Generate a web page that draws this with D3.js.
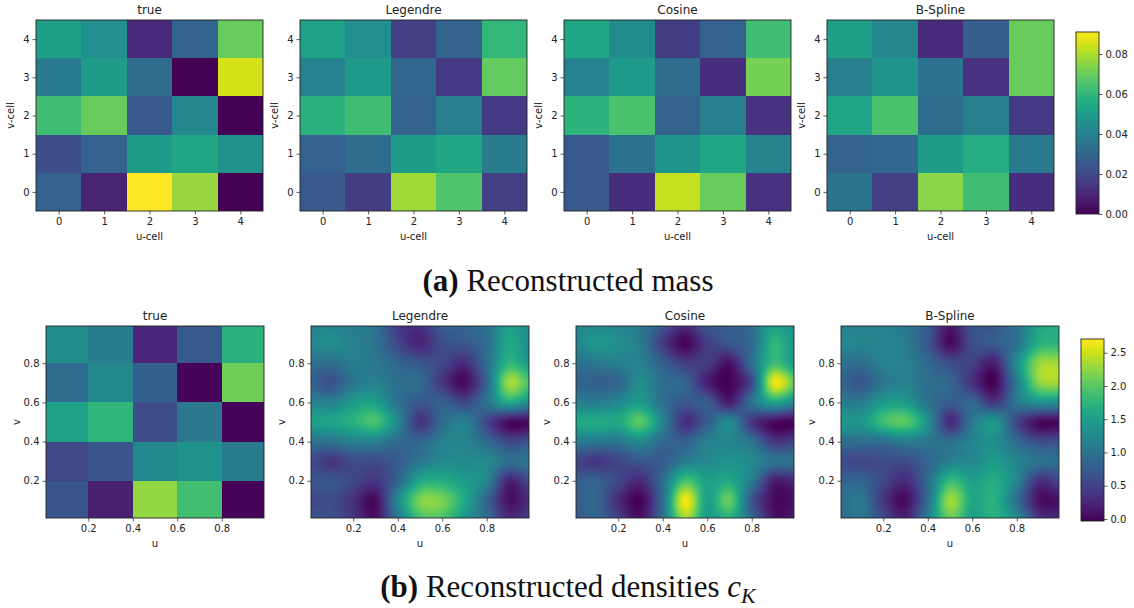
<!DOCTYPE html>
<html>
<head>
<meta charset="utf-8">
<script src="https://d3js.org/d3.v7.min.js"></script>
<style>
  html, body { margin: 0; background: #fff; }
  svg { display: block; }
  text { font-family: "DejaVu Sans", sans-serif; fill: #222; }
  .caption { font-family: "Liberation Serif", serif; font-size: 31px; fill: #111; }
</style>
</head>
<body>
<svg id="chart" width="1134" height="608"></svg>
<script>
const methods = ["true", "Legendre", "Cosine", "B-Spline"];
const cells = [0, 1, 2, 3, 4];

// mass per cell, rows listed from v-cell 4 down to v-cell 0
const massTrue = [
  [.051, .045, .010, .029, .070],
  [.037, .050, .032, .000, .085],
  [.063, .070, .025, .042, .000],
  [.022, .028, .050, .054, .046],
  [.028, .009, .091, .077, .000]
];
const massLegendre = [
  [.052, .045, .017, .029, .060],
  [.040, .049, .030, .015, .069],
  [.058, .063, .029, .039, .015],
  [.028, .032, .050, .054, .038],
  [.025, .016, .078, .066, .017]
];
const massCosine = [
  [.054, .044, .016, .028, .063],
  [.040, .049, .032, .012, .072],
  [.059, .065, .029, .039, .013],
  [.025, .034, .047, .054, .041],
  [.025, .012, .083, .070, .013]
];
const massBSpline = [
  [.051, .042, .011, .027, .070],
  [.039, .047, .034, .013, .070],
  [.053, .065, .032, .039, .015],
  [.029, .030, .050, .056, .037],
  [.035, .017, .075, .063, .012]
];

// true density per cell, same row order
const densityTrue = [
  [1.30, 1.10, .25, .72, 1.72],
  [.92, 1.25, .80, .00, 2.10],
  [1.52, 1.75, .62, 1.05, .00],
  [.55, .70, 1.25, 1.35, 1.10],
  [.70, .22, 2.25, 1.88, .00]
];
const densityEdges = [0, .2, .4, .6, .8, 1];

// densities read at u = 0, .1 ... 1, rows from v = 1 down to v = 0
const gridU = [0, .1, .2, .3, .4, .5, .6, .7, .8, .9, 1];
const gridLegendre = [
  [1.15, 1.2, 1.1, 1.0, .45, .35, .75, .85, 1.0, 1.5, 1.25],
  [1.2, 1.3, 1.15, 1.0, .55, .25, .6, .7, .95, 1.6, 1.25],
  [1.0, .95, 1.1, 1.05, .85, .7, .55, .3, .95, 1.75, 1.4],
  [.85, .65, 1.05, 1.15, .95, .9, .4, .05, .85, 2.3, 1.85],
  [1.2, 1.15, 1.45, 1.5, 1.0, .7, .8, .55, 1.0, 1.6, 1.25],
  [1.5, 1.55, 1.7, 1.9, 1.25, .4, .9, 1.15, .55, .05, .05],
  [1.0, 1.0, 1.15, 1.15, .9, .85, 1.15, 1.2, .9, .55, .65],
  [.6, .4, .6, .6, .75, 1.05, 1.25, 1.25, 1.25, .95, 1.05],
  [.7, .7, .55, .4, .85, 1.6, 1.65, 1.45, 1.2, .25, .6],
  [.55, .6, .35, .05, 1.25, 2.15, 2.15, 1.6, .85, .1, .35],
  [.7, .65, .4, .1, 1.0, 1.85, 1.9, 1.4, .95, .3, .5]
];
const gridCosine = [
  [1.2, 1.25, 1.2, 1.05, .7, .3, .7, .75, .95, 1.5, 1.3],
  [1.2, 1.4, 1.3, 1.1, .45, .0, .45, .7, .9, 1.75, 1.35],
  [1.0, 1.05, 1.15, 1.15, .8, .45, .45, .1, .95, 1.85, 1.4],
  [.85, .8, .85, 1.3, .95, .85, .2, .0, .6, 2.6, 2.0],
  [1.15, 1.1, 1.25, 1.45, .95, .7, .75, .2, 1.0, 1.55, 1.2],
  [1.6, 1.65, 1.6, 2.0, 1.2, .35, .75, 1.25, .4, .05, .0],
  [1.1, 1.05, 1.05, 1.25, .9, .8, 1.15, 1.2, 1.0, .4, .5],
  [.55, .4, .55, .7, .75, 1.1, 1.25, 1.35, 1.25, 1.0, 1.0],
  [.75, .8, .55, .3, .95, 1.9, 1.5, 1.6, 1.1, .2, .3],
  [.75, .85, .3, .0, .95, 2.65, 1.5, 2.05, .7, .05, .1],
  [.7, .85, .5, .1, 1.0, 2.3, 1.45, 1.65, .9, .1, .2]
];
const gridBSpline = [
  [1.2, 1.15, 1.15, 1.05, .75, .15, .65, .7, 1.0, 1.55, 1.65],
  [1.25, 1.2, 1.2, 1.1, .7, .05, .6, .75, 1.0, 1.7, 1.75],
  [1.0, .95, 1.15, 1.15, .9, .6, .5, .2, 1.3, 2.25, 2.3],
  [.9, .7, 1.05, 1.15, .95, .85, .35, .0, 1.1, 2.2, 2.3],
  [1.1, 1.1, 1.45, 1.45, 1.0, .75, .85, .4, 1.05, 1.35, 1.3],
  [1.45, 1.4, 1.85, 2.0, 1.35, .3, 1.05, 1.4, .55, .05, .05],
  [.95, .95, .95, 1.1, 1.05, .95, 1.2, 1.3, .9, .6, .65],
  [.6, .55, .6, .6, .85, 1.15, 1.25, 1.45, 1.2, 1.0, .95],
  [.8, .85, .55, .3, .9, 1.8, 1.5, 1.65, 1.2, .35, .55],
  [.9, 1.05, .4, .05, .95, 2.3, 1.6, 1.7, .95, .1, .1],
  [.85, 1.05, .6, .25, 1.15, 2.05, 1.5, 1.7, 1.3, .4, .3]
];

const massTicks = [0, .02, .04, .06, .08];
const densityTicks = [0, .5, 1, 1.5, 2, 2.5];
const uvTicks = [.2, .4, .6, .8];
const massDomain = [0, .091];
const densityDomain = [-.03, 2.706];
const uvDomain = [.01, .99];

const massColor = d3.scaleSequential(d3.interpolateViridis).domain(massDomain);
const densityColor = d3.scaleSequential(d3.interpolateViridis).domain(densityDomain).clamp(true);

const svg = d3.select("#chart");

function frame(g, x, y, w, h, title, xLabel, yLabel, xTicks, yTicks, fmt, yLabelX) {
  const outline = g.append("g");
  outline.append("g").attr("transform", `translate(0,${h})`)
    .call(d3.axisBottom(x).tickValues(xTicks).tickFormat(fmt).tickSize(3.5).tickPadding(3));
  outline.append("g")
    .call(d3.axisLeft(y).tickValues(yTicks).tickFormat(fmt).tickSize(3.5).tickPadding(3));
  outline.selectAll("text").style("font-size", "10px");
  outline.selectAll(".domain").remove();
  outline.selectAll("line").attr("stroke", "#333").attr("stroke-width", 0.8);
  g.append("rect").attr("width", w).attr("height", h)
    .attr("fill", "none").attr("stroke", "#222").attr("stroke-width", 0.9);

  g.append("text").attr("x", w / 2).attr("y", -6).attr("text-anchor", "middle")
    .style("font-size", "12px").text(title);
  g.append("text").attr("x", w / 2).attr("y", h + 29).attr("text-anchor", "middle")
    .style("font-size", "10px").text(xLabel);
  g.append("text").attr("transform", `translate(${yLabelX},${h / 2}) rotate(-90)`)
    .attr("text-anchor", "middle").style("font-size", "10px").text(yLabel);
}

// Mass row
const massPanels = [massTrue, massLegendre, massCosine, massBSpline];
const massLeft = [36, 300, 564, 827];
massPanels.forEach((rows, p) => {
  const w = 227, h = 191;
  const g = svg.append("g").attr("transform", `translate(${massLeft[p]},20)`);
  const x = d3.scaleLinear().domain([-.5, 4.5]).range([0, w]);
  const y = d3.scaleLinear().domain([-.5, 4.5]).range([h, 0]);
  rows.forEach((row, r) => {
    g.selectAll(null).data(row).join("rect")
      .attr("x", (d, i) => x(cells[i] - .5))
      .attr("y", y(cells[4 - r] + .5))
      .attr("width", (d, i) => x(cells[i] + .5) - x(cells[i] - .5))
      .attr("height", y(cells[4 - r] - .5) - y(cells[4 - r] + .5))
      .attr("shape-rendering", "crispEdges")
      .attr("fill", d => massColor(d));
  });
  frame(g, x, y, w, h, methods[p], "u-cell", "v-cell", cells, cells, d3.format("d"), -22);
});

// bicubic read of a grid, like imshow with interpolation
function catmull(a, b, c, d, t) {
  return b + .5 * t * (c - a + t * (2 * a - 5 * b + 4 * c - d + t * (3 * (b - c) + d - a)));
}
function sample(grid, u, v) {
  const n = gridU.length - 1;
  const fx = u * n, fy = (1 - v) * n;
  const ix = Math.min(n - 1, Math.floor(fx)), iy = Math.min(n - 1, Math.floor(fy));
  const at = (r, c) => grid[Math.max(0, Math.min(n, r))][Math.max(0, Math.min(n, c))];
  const col = [-1, 0, 1, 2].map(k =>
    catmull(at(iy + k, ix - 1), at(iy + k, ix), at(iy + k, ix + 1), at(iy + k, ix + 2), fx - ix));
  return catmull(col[0], col[1], col[2], col[3], fy - iy);
}
function fieldImage(grid, x, y, w, h) {
  const canvas = document.createElement("canvas");
  canvas.width = w;
  canvas.height = h;
  const ctx = canvas.getContext("2d");
  for (let py = 0; py < h; py++) {
    for (let px = 0; px < w; px++) {
      ctx.fillStyle = densityColor(sample(grid, x.invert(px + .5), y.invert(py + .5)));
      ctx.fillRect(px, py, 1, 1);
    }
  }
  return canvas.toDataURL();
}

// Density row
const densityPanels = [densityTrue, gridLegendre, gridCosine, gridBSpline];
const densityLeft = [46, 311, 576, 841];
densityPanels.forEach((data, p) => {
  const w = 218, h = 192;
  const g = svg.append("g").attr("transform", `translate(${densityLeft[p]},326)`);
  const x = d3.scaleLinear().domain(uvDomain).range([0, w]);
  const y = d3.scaleLinear().domain(uvDomain).range([h, 0]);
  if (p === 0) {
    data.forEach((row, r) => {
      const v0 = Math.max(densityEdges[4 - r], uvDomain[0]);
      const v1 = Math.min(densityEdges[5 - r], uvDomain[1]);
      g.selectAll(null).data(row).join("rect")
        .attr("x", (d, i) => x(Math.max(densityEdges[i], uvDomain[0])))
        .attr("y", y(v1))
        .attr("width", (d, i) => x(Math.min(densityEdges[i + 1], uvDomain[1])) - x(Math.max(densityEdges[i], uvDomain[0])))
        .attr("height", y(v0) - y(v1))
        .attr("shape-rendering", "crispEdges")
        .attr("fill", d => densityColor(d));
    });
  } else {
    g.append("image").attr("width", w).attr("height", h)
      .attr("href", fieldImage(data, x, y, w, h));
  }
  frame(g, x, y, w, h, methods[p], "u", "v", uvTicks, uvTicks, d3.format(".1f"), -26);
});

// Colorbars
function colorbar(left, top, w, h, domain, color, ticks, fmt) {
  const g = svg.append("g").attr("transform", `translate(${left},${top})`);
  const y = d3.scaleLinear().domain(domain).range([h, 0]);
  const steps = d3.range(h);
  g.selectAll(null).data(steps).join("rect")
    .attr("x", 0).attr("y", d => d).attr("width", w).attr("height", 1.2)
    .attr("shape-rendering", "crispEdges")
    .attr("fill", d => color(y.invert(d + .5)));
  const axis = g.append("g").attr("transform", `translate(${w},0)`)
    .call(d3.axisRight(y).tickValues(ticks).tickFormat(fmt).tickSize(3.5).tickPadding(3));
  axis.selectAll("text").style("font-size", "10px");
  axis.select(".domain").remove();
  axis.selectAll("line").attr("stroke", "#333").attr("stroke-width", 0.8);
  g.append("rect").attr("width", w).attr("height", h)
    .attr("fill", "none").attr("stroke", "#222").attr("stroke-width", 0.9);
}
colorbar(1076, 32, 23, 182, massDomain, massColor, massTicks, d3.format(".2f"));
colorbar(1081, 339, 23, 182, densityDomain, densityColor, densityTicks, d3.format(".1f"));

// Captions
const capA = svg.append("text").attr("class", "caption").attr("x", 568).attr("y", 291).attr("text-anchor", "middle");
capA.append("tspan").attr("class", "caption").style("font-weight", "bold").text("(a)");
capA.append("tspan").attr("class", "caption").text(" Reconstructed mass");

const capB = svg.append("text").attr("class", "caption").attr("x", 568).attr("y", 597).attr("text-anchor", "middle");
capB.append("tspan").attr("class", "caption").style("font-weight", "bold").text("(b)");
capB.append("tspan").attr("class", "caption").text(" Reconstructed densities ");
capB.append("tspan").attr("class", "caption").style("font-style", "italic").text("c");
capB.append("tspan").attr("class", "caption").style("font-style", "italic").style("font-size", "22px").attr("dy", 6).text("K");
</script>
</body>
</html>
